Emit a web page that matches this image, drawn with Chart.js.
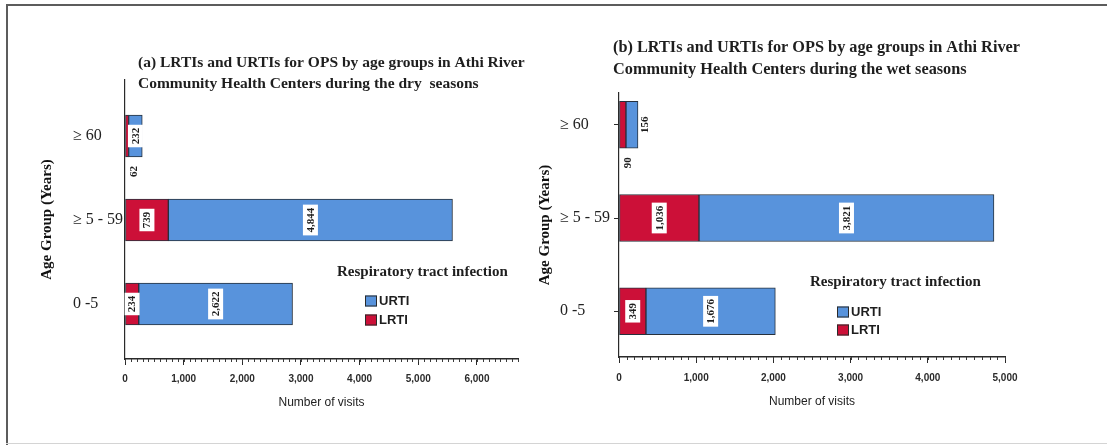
<!DOCTYPE html>
<html>
<head>
<meta charset="utf-8">
<script src="https://cdn.jsdelivr.net/npm/chart.js@4.4.1/dist/chart.umd.min.js"></script>
<style>
  html, body { margin: 0; padding: 0; background: #fff; }
  #sheet { position: relative; width: 1107px; height: 445px; overflow: hidden; background: #fff; }
  .rule-top { position: absolute; left: 6px; top: 4px; width: 1101px; height: 2px; background: #5c5c5c; }
  .rule-left { position: absolute; left: 6px; top: 4px; width: 2px; height: 441px; background: #5c5c5c; }
  .rule-bottom { position: absolute; left: 6px; top: 443px; width: 1101px; height: 1px; background: #d4d4d4; }
  .panel { position: absolute; top: 0; height: 445px; }
  #dry { left: 0; width: 535px; }
  #wet { left: 535px; width: 572px; }
</style>
</head>
<body>
<div id="sheet">
  <div class="rule-top"></div>
  <div class="rule-left"></div>
  <div class="rule-bottom"></div>
  <div class="panel" id="dry"><canvas id="dryChart" width="535" height="445"></canvas></div>
  <div class="panel" id="wet"><canvas id="wetChart" width="572" height="445"></canvas></div>
</div>
<script>
// Age groups, top to bottom
const AGE_GROUPS = ['≥ 60', '≥ 5 - 59', '0 -5'];

// Outpatient visits, dry seasons
const DRY_LRTI = [62, 739, 234];
const DRY_URTI = [232, 4844, 2622];

// Outpatient visits, wet seasons
const WET_LRTI = [90, 1036, 349];
const WET_URTI = [156, 3821, 1676];

// Value axis extents and labelled ticks
const DRY_X_MAX = 6700;
const WET_X_MAX = 5000;
const DRY_X_TICKS = [0, 1000, 2000, 3000, 4000, 5000, 6000];
const WET_X_TICKS = [0, 1000, 2000, 3000, 4000, 5000];
const X_MINOR_STEP = 100;

const TITLE_DRY = ['(a) LRTIs and URTIs for OPS by age groups in Athi River',
                   'Community Health Centers during the dry  seasons'];
const TITLE_WET = ['(b) LRTIs and URTIs for OPS by age groups in Athi River',
                   'Community Health Centers during the wet seasons'];
const LEGEND_TITLE = 'Respiratory tract infection';

const COLOR_URTI = '#5893dc';
const COLOR_LRTI = '#cc1038';
const INK = '#1e1e1e';

const fmt = v => Number(v).toLocaleString('en-US');

// Value labels written vertically on each bar segment;
// segments too narrow for a label get it beside the bar instead
const barLabels = {
  id: 'barLabels',
  afterDatasetsDraw(chart) {
    const ctx = chart.ctx;
    chart.data.datasets.forEach((ds, di) => {
      const meta = chart.getDatasetMeta(di);
      meta.data.forEach((bar, i) => {
        const txt = fmt(ds.data[i].x);
        const p = bar.getProps(['x', 'y', 'base', 'height'], true);
        const left = Math.min(p.x, p.base), right = Math.max(p.x, p.base);
        ctx.save();
        ctx.font = 'bold 11px "Liberation Serif"';
        const tw = ctx.measureText(txt).width;
        let cx, cy, boxed = true;
        if (right - left >= 13) {
          cx = (left + right) / 2; cy = p.y;
        } else if (ds.label === 'LRTI') {
          cx = left + 8; cy = p.y + p.height / 2 + 9 + tw / 2; boxed = false;
        } else {
          cx = right + 7; cy = p.y; boxed = false;
        }
        ctx.translate(cx, cy);
        ctx.rotate(-Math.PI / 2);
        if (boxed) {
          ctx.fillStyle = '#ffffff';
          ctx.fillRect(-tw / 2 - 3, -7.5, tw + 6, 15);
        }
        ctx.fillStyle = INK;
        ctx.textAlign = 'center';
        ctx.textBaseline = 'middle';
        ctx.fillText(txt, 0, 0.5);
        ctx.restore();
      });
    });
  }
};

// Short minor ticks under the value axis
const minorTicks = {
  id: 'minorTicks',
  afterDraw(chart, args, opts) {
    const sx = chart.scales.x;
    const ctx = chart.ctx;
    ctx.save();
    ctx.strokeStyle = '#3a3a3a';
    ctx.lineWidth = 1;
    for (let v = sx.min; v <= sx.max + 1e-6; v += opts.step) {
      const px = Math.round(sx.getPixelForValue(v)) + 0.5;
      ctx.beginPath();
      ctx.moveTo(px, sx.top);
      ctx.lineTo(px, sx.top + 3);
      ctx.stroke();
    }
    ctx.restore();
  }
};

// Two-line heading and the boxed legend
const panelText = {
  id: 'panelText',
  afterDraw(chart, args, o) {
    const ctx = chart.ctx;
    ctx.save();
    ctx.textAlign = 'left';
    ctx.textBaseline = 'middle';
    ctx.fillStyle = INK;
    ctx.font = 'bold ' + o.titleSize + 'px "Liberation Serif"';
    o.title.forEach((line, k) => ctx.fillText(line, o.titleX, o.titleY + k * o.titleGap));

    ctx.font = 'bold 15px "Liberation Serif"';
    ctx.fillText(o.legendTitle, o.legendX, o.legendY);
    const order = chart.data.datasets.map((d, i) => i).reverse();
    order.forEach((di, k) => {
      const ds = chart.data.datasets[di];
      const cy = o.itemY + k * o.itemGap;
      ctx.fillStyle = ds.backgroundColor;
      ctx.fillRect(o.boxX, cy - 5.5, 12, 11);
      ctx.strokeStyle = '#2a2a2a';
      ctx.lineWidth = 1;
      ctx.strokeRect(o.boxX + 0.5, cy - 5, 11, 10);
      ctx.fillStyle = INK;
      ctx.font = 'bold 13px "Liberation Sans"';
      ctx.fillText(ds.label, o.boxX + 14, cy + 0.5);
    });
    ctx.restore();
  }
};

function makeChart(canvasId, lrti, urti, cfg) {
  const toPoints = arr => arr.map((v, i) => ({ x: v, y: i }));
  const groupIndex = AGE_GROUPS.map((g, i) => i);
  return new Chart(document.getElementById(canvasId), {
    type: 'bar',
    data: {
      datasets: [
        { label: 'LRTI', data: toPoints(lrti), backgroundColor: COLOR_LRTI },
        { label: 'URTI', data: toPoints(urti), backgroundColor: COLOR_URTI }
      ]
    },
    plugins: [barLabels, minorTicks, panelText],
    options: {
      indexAxis: 'y',
      responsive: false,
      animation: false,
      layout: { padding: cfg.padding },
      datasets: {
        bar: {
          barThickness: cfg.barThickness,
          borderWidth: 1,
          borderColor: '#26303c',
          borderSkipped: false
        }
      },
      plugins: {
        legend: { display: false },
        tooltip: { enabled: false },
        minorTicks: { step: X_MINOR_STEP },
        panelText: cfg.text
      },
      scales: {
        x: {
          type: 'linear',
          stacked: true,
          bounds: 'data',
          min: 0,
          max: cfg.xMax,
          afterBuildTicks: s => { s.ticks = cfg.xTicks.map(v => ({ value: v })); },
          afterFit: s => { s.height = cfg.xHeight; },
          border: { display: true, color: '#2a2a2a', width: 1.5 },
          grid: { drawOnChartArea: false, drawTicks: true, tickLength: 6, color: '#2a2a2a' },
          ticks: {
            autoSkip: false,
            maxRotation: 0,
            padding: cfg.xTickPad,
            color: '#2b2b2b',
            font: { family: '"Liberation Sans"', size: 10, weight: 'bold' },
            callback: v => fmt(v)
          },
          title: {
            display: true,
            text: 'Number of visits',
            color: '#222',
            font: { family: '"Liberation Sans"', size: 12 },
            padding: { top: 0, bottom: cfg.xTitlePad }
          }
        },
        y: {
          type: 'linear',
          stacked: true,
          reverse: true,
          offset: false,
          bounds: 'data',
          min: cfg.yMin,
          max: cfg.yMax,
          afterBuildTicks: s => { s.ticks = groupIndex.map(v => ({ value: v })); },
          afterFit: s => { s.width = cfg.yWidth; },
          border: { display: true, color: '#2a2a2a', width: 1.2 },
          grid: { offset: false, drawOnChartArea: false, drawTicks: cfg.yTicks, tickLength: 5, color: '#2a2a2a' },
          ticks: {
            autoSkip: false,
            crossAlign: 'far',
            color: '#222',
            font: { family: '"Liberation Serif"', size: 16 },
            callback: v => AGE_GROUPS[v] ?? ''
          },
          title: {
            display: true,
            text: 'Age Group (Years)',
            color: '#111',
            font: { family: '"Liberation Serif"', size: 15, weight: 'bold' },
            padding: { top: cfg.yTitlePad, bottom: 0 }
          }
        }
      }
    }
  });
}

makeChart('dryChart', DRY_LRTI, DRY_URTI, {
  padding: { left: 73, top: 80, right: 17, bottom: 0 },
  barThickness: 42,
  xMax: DRY_X_MAX,
  xTicks: DRY_X_TICKS,
  xHeight: 86,
  xTickPad: 8,
  xTitlePad: 35,
  yMin: -0.667,
  yMax: 2.655,
  yWidth: 52,
  yTicks: false,
  yTitlePad: -35,
  text: {
    title: TITLE_DRY, titleX: 138, titleY: 63, titleGap: 21, titleSize: 15.5,
    legendTitle: LEGEND_TITLE, legendX: 337, legendY: 272,
    boxX: 365, itemY: 301, itemGap: 19
  }
});

makeChart('wetChart', WET_LRTI, WET_URTI, {
  padding: { left: 25, top: 93, right: 102, bottom: 0 },
  barThickness: 47,
  xMax: WET_X_MAX,
  xTicks: WET_X_TICKS,
  xHeight: 88,
  xTickPad: 9,
  xTitlePad: 36,
  yMin: -0.34,
  yMax: 2.49,
  yWidth: 59,
  yTicks: true,
  yTitlePad: -24,
  text: {
    title: TITLE_WET, titleX: 78, titleY: 48, titleGap: 22, titleSize: 16.3,
    legendTitle: LEGEND_TITLE, legendX: 275, legendY: 282,
    boxX: 302, itemY: 312, itemGap: 18
  }
});
</script>
</body>
</html>
